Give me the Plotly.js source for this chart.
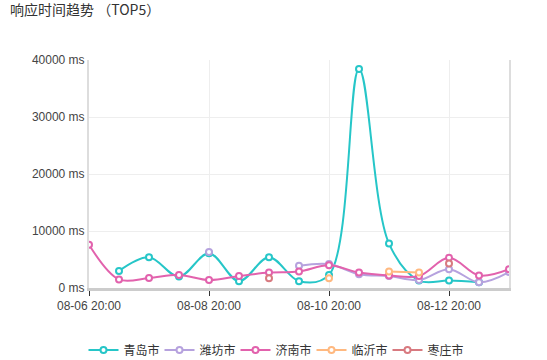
<!DOCTYPE html>
<html>
<head>
<meta charset="utf-8">
<script src="https://cdn.plot.ly/plotly-3.0.1.min.js"></script>
<style>html,body{margin:0;padding:0;background:#fff;}#chart{width:547px;height:360px;}</style>
</head>
<body>
<div id="chart"></div>
<script>
var times = ['2024-08-06 20:00','2024-08-07 08:00','2024-08-07 20:00','2024-08-08 08:00','2024-08-08 20:00',
  '2024-08-09 08:00','2024-08-09 20:00','2024-08-10 08:00','2024-08-10 20:00','2024-08-11 08:00',
  '2024-08-11 20:00','2024-08-12 08:00','2024-08-12 20:00','2024-08-13 08:00','2024-08-13 20:00'];
var qingdao  = [null,3000,5400,2000,6100,1200,5400,1200,2300,38400,7800,1300,1300,1000,null];
var weifang  = [null,null,null,null,6300,null,null,3900,4200,2400,2100,1400,3300,1000,2800];
var jinan    = [7600,1500,1750,2300,1400,2100,2700,2900,4000,2700,2200,2100,5300,2200,3300];
var linyi    = [null,null,null,null,null,null,null,null,1700,null,2900,2700,null,null,null];
var zaozhuang= [null,null,null,null,null,null,1700,null,null,null,null,null,4300,null,null];
var seriesNames = ['青岛市','潍坊市','济南市','临沂市','枣庄市'];
var colors = ['#26c6c8','#b6a2de','#e262ad','#ffb980','#d87a80'];
var tickVals = ['2024-08-06 20:00','2024-08-08 20:00','2024-08-10 20:00','2024-08-12 20:00'];
var tickText = ['08-06 20:00','08-08 20:00','08-10 20:00','08-12 20:00'];
var yTicks = [0,10000,20000,30000,40000];
var yTickText = ['0 ms','10000 ms','20000 ms','30000 ms','40000 ms'];

var allData = [qingdao, weifang, jinan, linyi, zaozhuang];
var traces = allData.map(function(d,i){
  return {
    x: times, y: d, name: seriesNames[i], type:'scatter', mode:'lines+markers',
    connectgaps:false,
    line:{color:colors[i], width:2, shape:'spline', smoothing:1},
    marker:{symbol:'circle', size:6, color:'#fff', line:{color:colors[i], width:2}},
    hoverinfo:'skip'
  };
});

var layout = {
  width:547, height:360,
  margin:{l:89, r:38, t:60, b:72, pad:0},
  paper_bgcolor:'#fff', plot_bgcolor:'#fff',
  font:{family:'"Liberation Sans", Arial, "Noto Sans CJK SC", sans-serif', size:12, color:'#444'},
  title:{text:'响应时间趋势 （TOP5）', x:10/547, xref:'container', xanchor:'left',
         y:1-10/360, yref:'container', yanchor:'middle', pad:{t:0,b:0,l:0,r:0},
         font:{family:'"Noto Sans CJK SC", sans-serif', size:14, color:'#333'}},
  showlegend:true,
  legend:{orientation:'h', xref:'container', yref:'container', x:0.5, xanchor:'center',
          y:10/360, yanchor:'middle', font:{family:'"Noto Sans CJK SC", sans-serif', size:12, color:'#333'},
          itemwidth:30, tracegroupgap:0, entrywidth:31, entrywidthmode:'pixels'},
  xaxis:{type:'date', range:[times[0], times[times.length-1]],
         tickvals:tickVals, ticktext:tickText,
         showgrid:true, gridcolor:'#eeeeee', gridwidth:1,
         showline:true, linecolor:'#cccccc', linewidth:3,
         ticks:'outside', ticklen:5, tickcolor:'#333', tickwidth:1,
         tickfont:{size:12, color:'#444'}, zeroline:false, fixedrange:true},
  yaxis:{range:[0,40000], tickvals:yTicks, ticktext:yTickText,
         showgrid:true, gridcolor:'#eeeeee', gridwidth:1,
         showline:true, linecolor:'#dddddd', linewidth:2, mirror:true,
         ticks:'', tickfont:{size:12, color:'#444'}, zeroline:false, fixedrange:true}
};
Plotly.newPlot('chart', traces, layout, {displayModeBar:false, staticPlot:true});
</script>
</body>
</html>
